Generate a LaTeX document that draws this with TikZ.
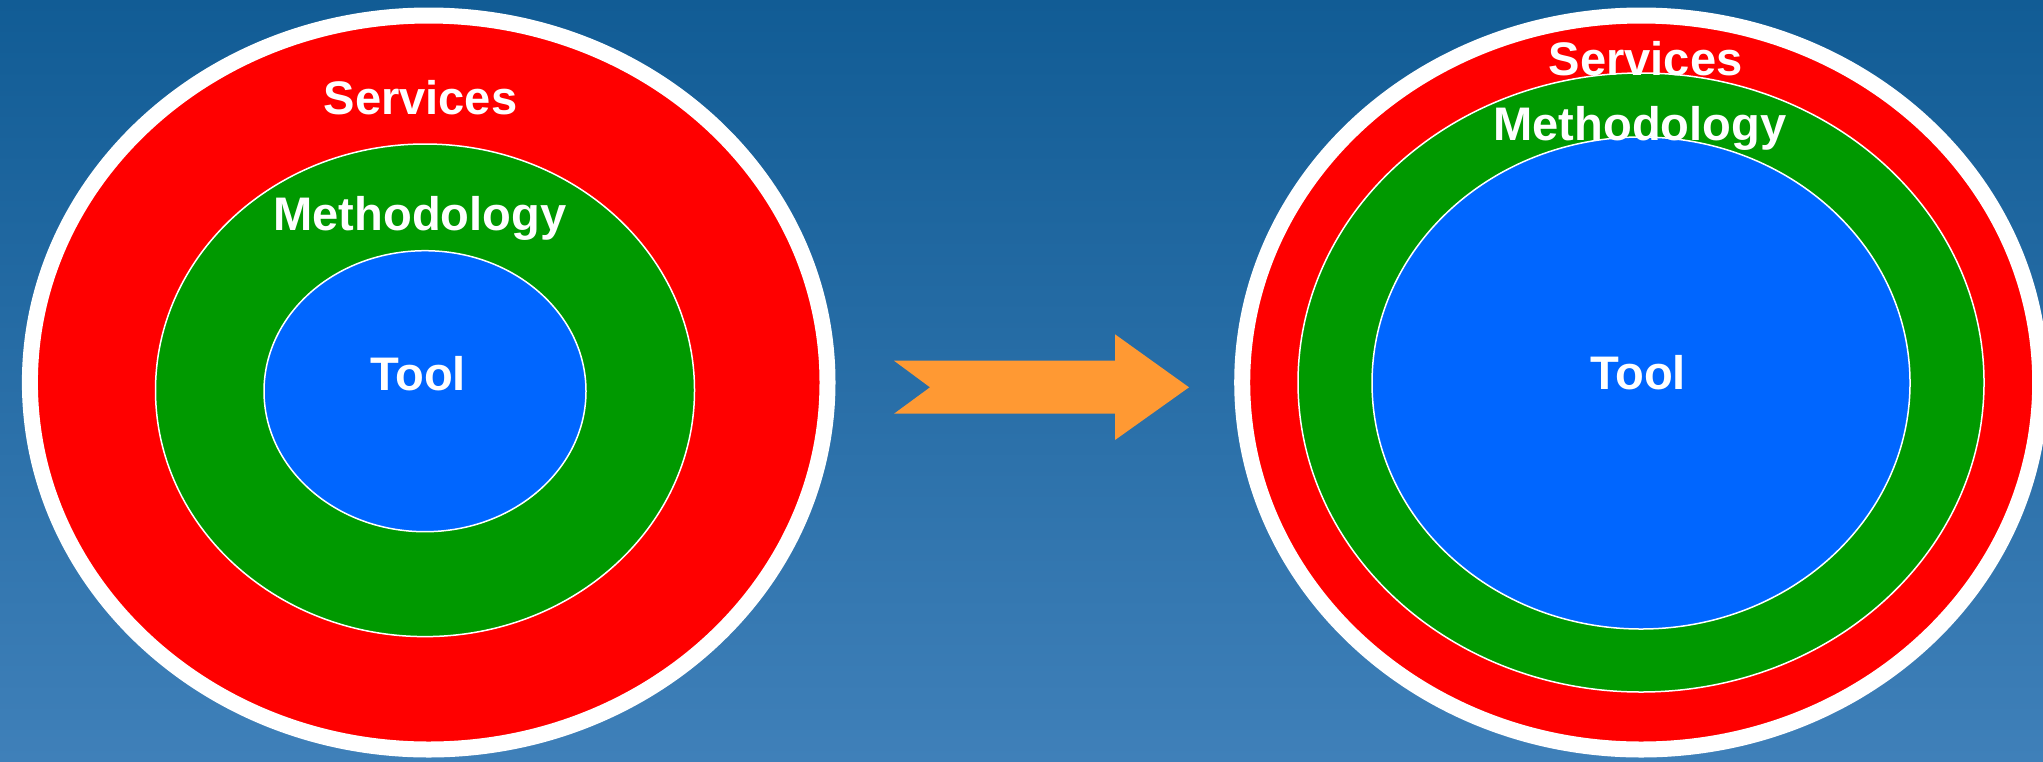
\documentclass[tikz,border=0pt]{standalone}
\usepackage{fontspec}
\setmainfont{Liberation Sans}
\usetikzlibrary{shapes.geometric}
\definecolor{bgtop}{RGB}{17,92,149}
\definecolor{bgbot}{RGB}{63,128,185}
\definecolor{svcred}{RGB}{255,0,0}
\definecolor{methgreen}{RGB}{0,153,0}
\definecolor{toolblue}{RGB}{0,102,255}
\definecolor{arroworange}{RGB}{255,153,51}
\tikzset{
  ring/.style={ellipse, inner sep=0pt, outer sep=0pt, draw=white},
  outerring/.style={ring, fill=svcred, line width=1.6mm},
  midring/.style={ring, fill=methgreen, line width=0.15mm},
  innerring/.style={ring, fill=toolblue, line width=0.15mm},
  lbl/.style={anchor=base, text=white, inner sep=0pt,
    font=\bfseries\fontsize{13.4pt}{16pt}\selectfont},
}
\begin{document}
\begin{tikzpicture}[x=0.1mm,y=-0.1mm]
\useasboundingbox (0,0) rectangle (2043,761);
\shade[top color=bgtop, bottom color=bgbot] (0,0) rectangle (2043,761);
% left diagram
\node[outerring, minimum width=79.76mm, minimum height=73.4mm] (lsvc) at (428.7,382.5) {};
\node[midring, minimum width=53.9mm, minimum height=49.26mm] (lmeth) at (425,390.3) {};
\node[innerring, minimum width=32.2mm, minimum height=28.1mm] (ltool) at (425,391.2) {};
% right diagram
\node[outerring, minimum width=79.8mm, minimum height=73.4mm] (rsvc) at (1641.2,382.5) {};
\node[midring, minimum width=68.6mm, minimum height=61.9mm] (rmeth) at (1641,382.5) {};
\node[innerring, minimum width=53.8mm, minimum height=49.2mm] (rtool) at (1641,383) {};
% arrow
\fill[arroworange] (894,360.7) -- (930,387.3) -- (894,413.7) -- (1115,413.7)
  -- (1115,440) -- (1189,387.3) -- (1115,334.3) -- (1115,360.7) -- cycle;
% labels
\node[lbl] (lsvct) at (420.5,114.7) {Services};
\node[lbl] (lmetht) at (420,230) {Methodology};
\node[lbl] (ltoolt) at (418,390) {Tool};
\node[lbl] (rsvct) at (1645.6,75.2) {Services};
\node[lbl] (rmetht) at (1640,140.5) {Methodology};
\node[lbl] (rtoolt) at (1638,389.7) {Tool};
\end{tikzpicture}
\end{document}
